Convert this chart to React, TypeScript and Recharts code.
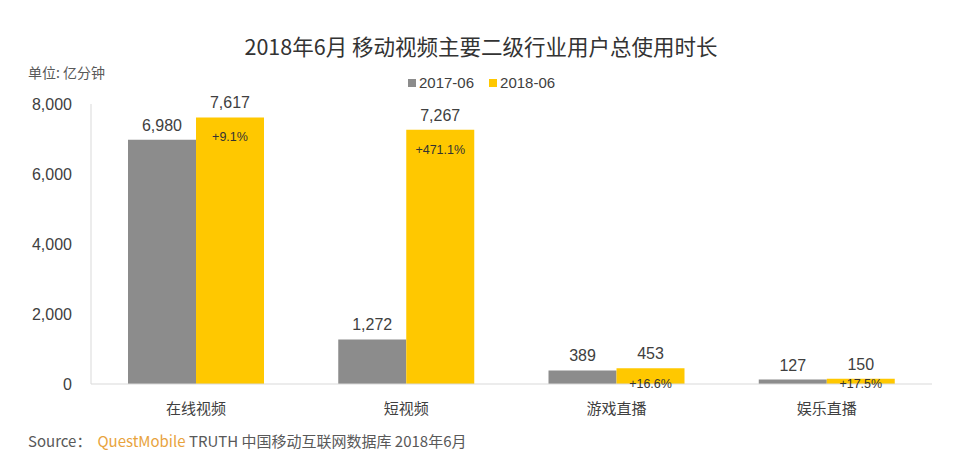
import { Bar, BarChart, LabelList, XAxis, YAxis } from "recharts";

// 2018年6月 移动视频主要二级行业用户总使用时长 (单位: 亿分钟)
const categories = ["在线视频", "短视频", "游戏直播", "娱乐直播"];
const jun2017 = [6980, 1272, 389, 127];
const jun2018 = [7617, 7267, 453, 150];
const growth = ["+9.1%", "+471.1%", "+16.6%", "+17.5%"];
const yTicks = [0, 2000, 4000, 6000, 8000];

const GRAY = "#8c8c8c";
const YELLOW = "#ffc800";
const AXIS = "#d9d9d9";
const TEXT = "#404040";
const CJK = "'Noto Sans CJK SC', 'Liberation Sans', sans-serif";
const NUM = "'Liberation Sans', 'Noto Sans CJK SC', sans-serif";

const data = categories.map((name, i) => ({
  name,
  a: jun2017[i],
  b: jun2018[i],
  g: growth[i],
}));

const fmt = (v: number) => v.toLocaleString("en-US");

function ValueLabel(props: any) {
  const { x, y, width, value } = props;
  return (
    <text
      x={x + width / 2}
      y={y - 9}
      textAnchor="middle"
      fontSize={16}
      fontFamily={NUM}
      fill={TEXT}
    >
      {fmt(value)}
    </text>
  );
}

function GrowthLabel(props: any) {
  const { x, y, width, value } = props;
  return (
    <text
      x={x + width / 2}
      y={Math.min(y + 24, 388)}
      textAnchor="middle"
      fontSize={12.5}
      fontFamily={NUM}
      fill="#333"
    >
      {value}
    </text>
  );
}

export default function App() {
  return (
    <div
      style={{
        position: "absolute",
        left: 0,
        top: 0,
        width: 960,
        height: 464,
        background: "#fff",
        fontFamily: CJK,
      }}
    >
      <div
        style={{
          position: "absolute",
          top: 30,
          left: 0,
          width: 962,
          textAlign: "center",
          fontSize: 21.5,
          color: "#333",
        }}
      >
        2018年6月 移动视频主要二级行业用户总使用时长
      </div>
      <div style={{ position: "absolute", top: 62, left: 28, fontSize: 14, color: "#595959" }}>
        单位: 亿分钟
      </div>
      <div
        style={{
          position: "absolute",
          top: 74,
          left: 408,
          fontSize: 15,
          fontFamily: NUM,
          color: TEXT,
          display: "flex",
          alignItems: "center",
        }}
      >
        <span style={{ width: 8, height: 8, background: GRAY, marginRight: 3 }} />
        <span style={{ marginRight: 15 }}>2017-06</span>
        <span style={{ width: 8, height: 8, background: YELLOW, marginRight: 3 }} />
        <span>2018-06</span>
      </div>

      <BarChart
        width={960}
        height={464}
        data={data}
        margin={{ top: 104, right: 28, left: 0, bottom: 40 }}
        barCategoryGap="17.6%"
        barGap={0}
      >
        <XAxis
          dataKey="name"
          height={40}
          axisLine={{ stroke: AXIS }}
          tickLine={false}
          tickSize={0}
          tickMargin={19}
          tick={{ fontSize: 15, fill: TEXT, fontFamily: CJK }}
        />
        <YAxis
          width={91}
          domain={[0, 8000]}
          ticks={yTicks}
          tickFormatter={fmt}
          axisLine={{ stroke: AXIS }}
          tickLine={false}
          tickSize={0}
          tickMargin={19}
          tick={{ fontSize: 16, fill: TEXT, fontFamily: NUM }}
        />
        <Bar dataKey="a" fill={GRAY} isAnimationActive={false}>
          <LabelList dataKey="a" content={<ValueLabel />} />
        </Bar>
        <Bar dataKey="b" fill={YELLOW} isAnimationActive={false}>
          <LabelList dataKey="b" content={<ValueLabel />} />
          <LabelList dataKey="g" content={<GrowthLabel />} />
        </Bar>
      </BarChart>

      <div
        style={{
          position: "absolute",
          top: 430,
          left: 28,
          fontSize: 15,
          color: "#595959",
          whiteSpace: "nowrap",
        }}
      >
        Source：
        <span style={{ color: "#e8a33d", marginLeft: 6 }}>QuestMobile</span> TRUTH 中国移动互联网数据库 2018年6月
      </div>
    </div>
  );
}
